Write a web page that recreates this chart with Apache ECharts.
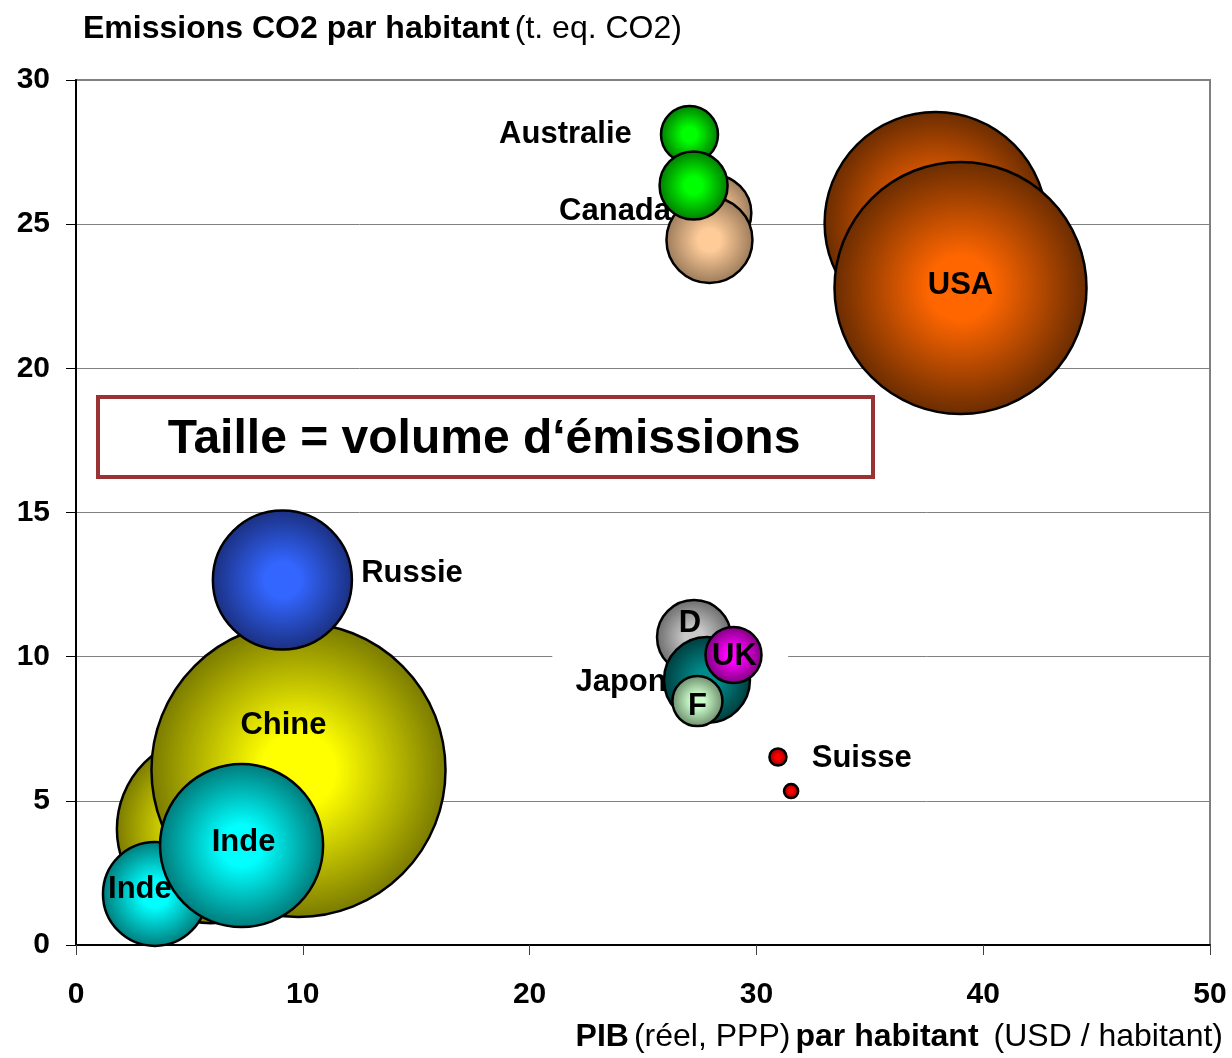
<!DOCTYPE html>
<html>
<head>
<meta charset="utf-8">
<title>Emissions CO2 par habitant</title>
<script src="https://cdn.jsdelivr.net/npm/echarts@6/dist/echarts.min.js"></script>
<style>
  html, body { margin: 0; padding: 0; background: #fff; }
  #chart { width: 1232px; height: 1058px; }
</style>
</head>
<body>
<div id="chart"></div>
<script>
// one bubble per entry, in drawing order (back to front)
const bubbleNames = ['Chine', 'Inde', 'Chine', 'Inde', 'Russie', 'USA', 'USA', 'Australie', 'Canada', 'Canada', 'Australie', 'D', 'Japon', 'UK', 'F', 'Suisse', 'Suisse']
const pibValues = [5.95, 3.48, 9.81, 7.30, 9.10, 37.9, 39.0, 27.05, 28.1, 27.93, 27.23, 27.25, 27.82, 28.99, 27.40, 30.95, 31.53]
const co2Values = [4.02, 1.77, 6.07, 3.45, 12.66, 25.04, 22.79, 28.11, 25.39, 24.45, 26.34, 10.68, 9.19, 10.06, 8.46, 6.52, 5.34]
// volume d'emissions (Mt eq. CO2), drives bubble area
const volumeValues = [3900, 1190, 9530, 2930, 2130, 5430, 7000, 358, 637, 815, 510, 604, 815, 346, 276, 32, 22]
const labelTexts = ['', 'Inde', 'Chine', 'Inde', 'Russie', '', 'USA', 'Australie', 'Canada', '', '', 'D', 'Japon', 'UK', 'F', 'Suisse', '']

const xTicks = [0, 10, 20, 30, 40, 50]
const yTicks = [0, 5, 10, 15, 20, 25, 30]

// couleurs : centre clair, bord sombre
const palette = {
  USA: ['#ff6600', '#6a2c00'],
  Australie: ['#00ff00', '#007a00'],
  Canada: ['#ffcc99', '#9a7a5a'],
  D: ['#c8c8c8', '#6a6a6a'],
  Japon: ['#008a8a', '#003c3c'],
  UK: ['#ff00ff', '#7a007a'],
  F: ['#ccffcc', '#6a8a6a'],
  Suisse: ['#ff0000', '#800000'],
  Russie: ['#3366ff', '#1a2f80'],
  Chine: ['#ffff00', '#7a7a00'],
  Inde: ['#00ffff', '#007a7a']
}

// placement des etiquettes par bulle
const labelPlace = {
  1: { position: 'inside', offset: [-15, -5] },
  2: { position: 'inside', offset: [-15, -45] },
  3: { position: 'inside', offset: [2, -3] },
  4: { position: 'right', distance: 8, offset: [0, -7] },
  6: { position: 'inside', offset: [0, -2] },
  7: { position: 'left', distance: 28, offset: [0, 0] },
  8: { position: 'left', distance: 3, offset: [0, -1] },
  11: { position: 'inside', offset: [-4, -14] },
  12: { position: 'left', distance: -4, offset: [0, 2] },
  13: { position: 'inside', offset: [1, 2] },
  14: { position: 'inside', offset: [0, 5] },
  15: { position: 'right', distance: 24, offset: [0, 1] }
}

const FONT = '"Liberation Sans", Arial, sans-serif'
const SIZE_K = 3.012

const series = bubbleNames.map((name, i) => {
  const c = palette[name]
  const lp = labelPlace[i] || {}
  return {
    type: 'scatter',
    name: name,
    z: 2 + i,
    data: [[pibValues[i], co2Values[i], volumeValues[i]]],
    symbolSize: v => Math.sqrt(v[2]) * SIZE_K,
    itemStyle: {
      color: new echarts.graphic.RadialGradient(0.5, 0.5, 0.5, [
        { offset: 0, color: c[0] },
        { offset: 0.25, color: c[0] },
        { offset: 1, color: c[1] }
      ]),
      borderColor: '#000',
      borderWidth: 2.5,
      opacity: 1
    },
    label: {
      show: labelTexts[i] !== '',
      formatter: labelTexts[i],
      position: lp.position || 'inside',
      distance: lp.distance || 0,
      offset: lp.offset || [0, 0],
      color: '#000',
      fontFamily: FONT,
      fontWeight: 'bold',
      fontSize: 31
    },
    emphasis: { disabled: true },
    silent: true
  }
})

const chart = echarts.init(document.getElementById('chart'))

const titleRich = {
  b: { fontFamily: FONT, fontSize: 32, fontWeight: 'bold', color: '#000' },
  n: { fontFamily: FONT, fontSize: 32, fontWeight: 'normal', color: '#000' }
}

const option = {
  animation: false,
  backgroundColor: '#fff',
  title: [
    {
      left: 78,
      top: 8,
      text: '{b|Emissions CO2 par habitant} {n|(t. eq. CO2)}',
      textStyle: { rich: titleRich }
    },
    {
      right: 4,
      top: 1016,
      text: '{b|PIB} {n|(réel, PPP)} {b|par habitant}   {n|(USD / habitant)}',
      textStyle: { rich: titleRich }
    }
  ],
  grid: {
    left: 76, right: 22, top: 80, bottom: 113,
    show: true,
    borderColor: '#808080',
    borderWidth: 2,
    backgroundColor: '#fff'
  },
  xAxis: {
    type: 'value',
    min: xTicks[0],
    max: xTicks[xTicks.length - 1],
    interval: 10,
    axisLine: { show: true, onZero: false, lineStyle: { color: '#000', width: 2 } },
    axisTick: { show: true, length: 10, lineStyle: { color: '#404040', width: 1 } },
    splitLine: { show: false },
    axisLabel: { margin: 35, fontFamily: FONT, fontSize: 30, fontWeight: 'bold', color: '#000' }
  },
  yAxis: {
    type: 'value',
    min: yTicks[0],
    max: yTicks[yTicks.length - 1],
    interval: 5,
    axisLine: { show: true, onZero: false, lineStyle: { color: '#000', width: 2 } },
    axisTick: { show: true, length: 10, lineStyle: { color: '#000', width: 1 } },
    splitLine: { show: true, lineStyle: { color: '#808080', width: 1 } },
    axisLabel: { margin: 26, fontFamily: FONT, fontSize: 30, fontWeight: 'bold', color: '#000', padding: [4, 0, 0, 0] }
  },
  graphic: [
    {
      type: 'group',
      left: 96,
      top: 395,
      z: 100,
      children: [
        {
          type: 'rect',
          shape: { x: 0, y: 0, width: 775, height: 80 },
          style: { fill: '#fff', stroke: '#993333', lineWidth: 4 }
        },
        {
          type: 'text',
          x: 386,
          y: 43,
          style: {
            text: 'Taille = volume d\u2018émissions',
            fontFamily: FONT,
            fontSize: 48,
            fontWeight: 'bold',
            fill: '#000',
            align: 'center',
            verticalAlign: 'middle'
          }
        }
      ]
    }
  ],
  series: series
}

chart.setOption(option)

// blanc derriere l'etiquette Japon (coupe la ligne de grille a 10)
const p0 = chart.convertToPixel({ gridIndex: 0 }, [21.0, 10])
const p1 = chart.convertToPixel({ gridIndex: 0 }, [31.4, 10])
chart.setOption({
  graphic: [
    option.graphic[0],
    {
      type: 'rect',
      z: 1,
      shape: { x: p0[0], y: p0[1] - 6, width: p1[0] - p0[0], height: 12 },
      style: { fill: '#fff' },
      silent: true
    }
  ]
})
</script>
</body>
</html>
